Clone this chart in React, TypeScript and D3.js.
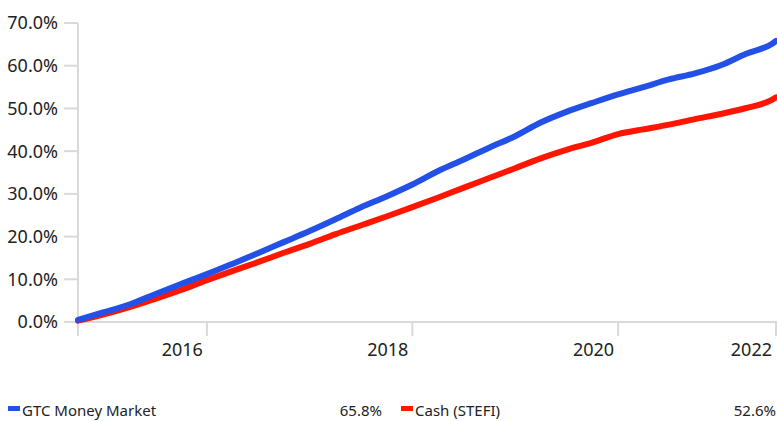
import React from 'react';
import * as d3 from 'd3';

// quarter-end dates (cumulative return since inception)
const dates = [
  '2015-09-30', '2015-12-31', '2016-03-31', '2016-06-30', '2016-09-30', '2016-12-31',
  '2017-03-31', '2017-06-30', '2017-09-30', '2017-12-31', '2018-03-31', '2018-06-30',
  '2018-09-30', '2018-12-31', '2019-03-31', '2019-06-30', '2019-09-30', '2019-12-31',
  '2020-03-31', '2020-06-30', '2020-09-30', '2020-12-31', '2021-03-31', '2021-06-30',
  '2021-09-30', '2021-12-31', '2022-03-31', '2022-06-30', '2022-07-15',
];
const gtcMoneyMarket = [
  0.5, 2.3, 4.1, 6.5, 8.9, 11.2,
  13.6, 16.1, 18.7, 21.3, 24.0, 26.8,
  29.4, 32.2, 35.3, 38.0, 40.8, 43.5,
  46.7, 49.2, 51.3, 53.3, 55.0, 56.8,
  58.2, 60.1, 62.8, 65.1, 65.8,
];
const cashStefi = [
  0.3, 1.8, 3.5, 5.4, 7.5, 9.8,
  11.9, 14.0, 16.2, 18.3, 20.5, 22.6,
  24.7, 26.9, 29.1, 31.4, 33.7, 36.0,
  38.3, 40.3, 42.0, 44.0, 45.1, 46.2,
  47.5, 48.7, 50.1, 52.0, 52.6,
];
const yTicks = [0, 10, 20, 30, 40, 50, 60, 70];
const xTickDates = ['2016-12-31', '2018-12-31', '2020-12-31', '2022-07-15'];
const xTickLabels = ['2016', '2018', '2020', '2022'];

const series = [
  { name: 'GTC Money Market', values: gtcMoneyMarket, color: '#2350e6', total: '65.8%' },
  { name: 'Cash (STEFI)', values: cashStefi, color: '#ff1500', total: '52.6%' },
];

const W = 777;
const H = 421;
const font = '"Noto Sans", sans-serif';
const grid = '#d9d9d9';

export default function App() {
  const parse = d3.timeParse('%Y-%m-%d');
  const ds = dates.map((d) => parse(d) as Date);

  const x = d3
    .scaleTime()
    .domain(d3.extent(ds) as [Date, Date])
    .range([78, 776]);
  const y = d3.scaleLinear().domain([0, 70]).range([322, 23]);

  const line = d3
    .line<number>()
    .x((_, i) => x(ds[i]))
    .y((v) => y(v))
    .curve(d3.curveMonotoneX);

  // draw red first so blue sits on top
  const drawOrder = [series[1], series[0]];

  return (
    <div style={{ position: 'absolute', left: 0, top: 0 }}>
      <svg width={W} height={H} style={{ display: 'block', background: '#fff' }}>
        {/* y axis */}
        <line x1={78} x2={78} y1={y(70)} y2={336} stroke={grid} strokeWidth={2} />
        {yTicks.map((t) => (
          <g key={t}>
            <line x1={64} x2={78} y1={y(t)} y2={y(t)} stroke={grid} strokeWidth={2} />
            <text
              x={58}
              y={y(t)}
              dy="0.36em"
              textAnchor="end"
              fontFamily={font}
              fontSize={18}
              fill="#222"
            >
              {t.toFixed(1)}%
            </text>
          </g>
        ))}
        {/* x axis */}
        <line x1={64} x2={777} y1={322} y2={322} stroke={grid} strokeWidth={2} />
        {xTickDates.map((d, i) => {
          const xx = Math.min(x(parse(d) as Date), 776);
          return (
            <g key={d}>
              <line x1={xx} x2={xx} y1={322} y2={336} stroke={grid} strokeWidth={2} />
              <text
                x={xx - 4}
                y={356}
                textAnchor="end"
                fontFamily={font}
                fontSize={18}
                fill="#222"
              >
                {xTickLabels[i]}
              </text>
            </g>
          );
        })}
        {/* lines */}
        {drawOrder.map((s) => (
          <path
            key={s.name}
            d={line(s.values) ?? ''}
            fill="none"
            stroke={s.color}
            strokeWidth={6}
            strokeLinecap="round"
            strokeLinejoin="round"
          />
        ))}
        {/* legend */}
        {series.map((s, i) => {
          const lx = 8 + i * 393;
          return (
            <g key={s.name}>
              <rect x={lx} y={406} width={12} height={5} fill={s.color} />
              <text x={lx + 14} y={416} fontFamily={font} fontSize={15} fill="#222">
                {s.name}
              </text>
              <text
                x={i === 0 ? 382 : 776}
                y={416}
                textAnchor="end"
                fontFamily={font}
                fontSize={15}
                fill="#222"
              >
                {s.total}
              </text>
            </g>
          );
        })}
      </svg>
    </div>
  );
}
